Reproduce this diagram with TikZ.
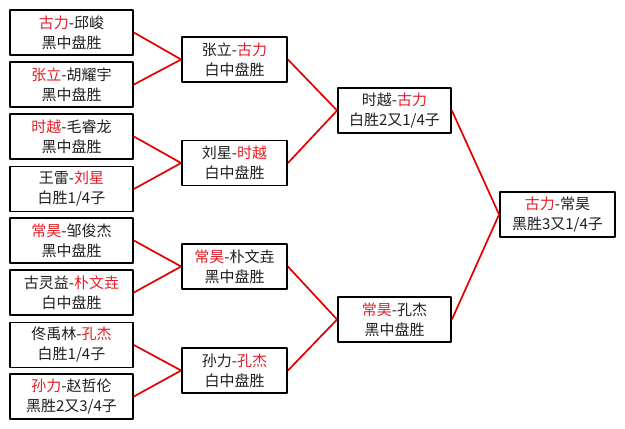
\documentclass[tikz,border=0pt]{standalone}
\usepackage[x11names, svgnames, rgb]{xcolor}
\usepackage{fontspec}
\setmainfont{Noto Sans CJK SC}
\usepackage{tikz}
\usetikzlibrary{arrows,shapes}

\definecolor{WinRed}{RGB}{228,30,38}
\definecolor{LinkRed}{RGB}{226,0,0}
\newcommand{\win}[1]{\textcolor{WinRed}{#1}}

\begin{document}
\begin{tikzpicture}[x=1pt, y=-1pt, line join=bevel,
  game/.style={draw=black, fill=white, line width=1.8pt, rectangle,
    minimum height=45pt, inner sep=0pt, align=center, text=black!88,
    font=\fontsize{15}{20}\selectfont},
  g1/.style={game, minimum width=123pt},
  g2/.style={game, minimum width=105pt},
  g3/.style={game, minimum width=113pt},
  g4/.style={game, minimum width=115pt},
  link/.style={draw=LinkRed, line width=1.7pt}]
\useasboundingbox (0,0) rectangle (625,429);
%%
\node (r1_guli-qiujun) at (71.5,32.5)
  [g1] {\win{古力}-邱峻\\黑中盘胜};
\node (r1_zhangli-huyaoyu) at (71.5,84.5)
  [g1] {\win{张立}-胡耀宇\\黑中盘胜};
\node (r1_shiyue-maoruilong) at (71.5,136.5)
  [g1] {\win{时越}-毛睿龙\\黑中盘胜};
\node (r1_wanglei-liuxing) at (71.5,189)
  [g1] {王雷-\win{刘星}\\白胜1/4子};
\node (r1_changhao-zoujunjie) at (71.5,240.5)
  [g1] {\win{常昊}-邹俊杰\\黑中盘胜};
\node (r1_gulingyi-piaowenyao) at (71.5,292.5)
  [g1] {古灵益-\win{朴文垚}\\白中盘胜};
\node (r1_tongyulin-kongjie) at (71.5,345)
  [g1] {佟禹林-\win{孔杰}\\白胜1/4子};
\node (r1_sunli-zhaozhelun) at (71.5,396.5)
  [g1] {\win{孙力}-赵哲伦\\黑胜2又3/4子};

\node (r2_zhangli-guli) at (234.5,59.5)
  [g2] {张立-\win{古力}\\白中盘胜};
\node (r2_liuxing-shiyue) at (234.5,163)
  [g2] {刘星-\win{时越}\\白中盘胜};
\node (r2_changhao-piaowenyao) at (234.5,266.5)
  [g2] {\win{常昊}-朴文垚\\黑中盘胜};
\node (r2_sunli-kongjie) at (234.5,370.5)
  [g2] {孙力-\win{孔杰}\\白中盘胜};

\node (r3_shiyue-guli) at (394.5,110.5)
  [g3] {时越-\win{古力}\\白胜2又1/4子};
\node (r3_changhao-kongjie) at (394.5,319.5)
  [g3] {\win{常昊}-孔杰\\黑中盘胜};

\node (fin_guli-changhao) at (557.5,214.5)
  [g4] {\win{古力}-常昊\\黑胜3又1/4子};

\draw [link] (r1_guli-qiujun.east) -- (r2_zhangli-guli.west);
\draw [link] (r1_zhangli-huyaoyu.east) -- (r2_zhangli-guli.west);
\draw [link] (r1_shiyue-maoruilong.east) -- (r2_liuxing-shiyue.west);
\draw [link] (r1_wanglei-liuxing.east) -- (r2_liuxing-shiyue.west);
\draw [link] (r1_changhao-zoujunjie.east) -- (r2_changhao-piaowenyao.west);
\draw [link] (r1_gulingyi-piaowenyao.east) -- (r2_changhao-piaowenyao.west);
\draw [link] (r1_tongyulin-kongjie.east) -- (r2_sunli-kongjie.west);
\draw [link] (r1_sunli-zhaozhelun.east) -- (r2_sunli-kongjie.west);

\draw [link] (r2_zhangli-guli.east) -- (r3_shiyue-guli.west);
\draw [link] (r2_liuxing-shiyue.east) -- (r3_shiyue-guli.west);
\draw [link] (r2_changhao-piaowenyao.east) -- (r3_changhao-kongjie.west);
\draw [link] (r2_sunli-kongjie.east) -- (r3_changhao-kongjie.west);

\draw [link] (r3_shiyue-guli.east) -- (fin_guli-changhao.west);
\draw [link] (r3_changhao-kongjie.east) -- (fin_guli-changhao.west);
\end{tikzpicture}
\end{document}
